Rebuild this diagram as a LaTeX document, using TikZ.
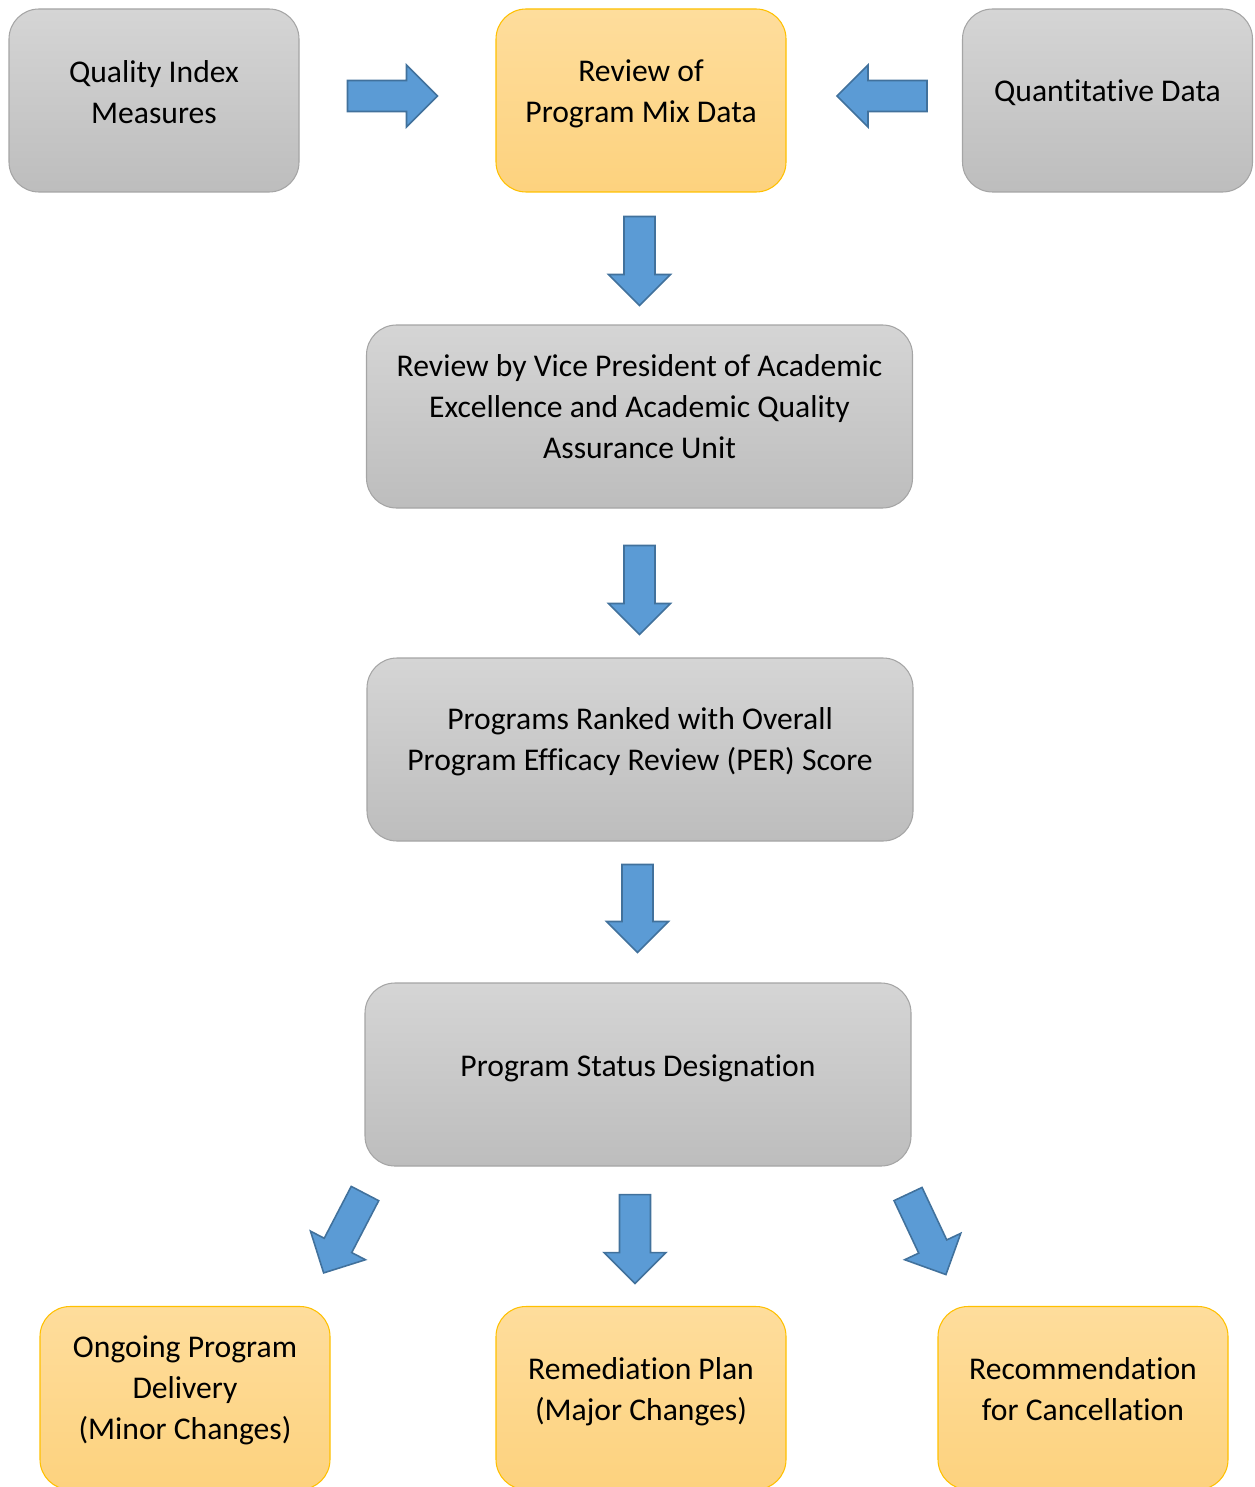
\documentclass[tikz,border=0pt]{standalone}
\usepackage{fontspec}
\setmainfont{Carlito}[Ligatures=NoCommon]
\usetikzlibrary{calc}

\definecolor{graytop}{HTML}{D5D5D5}
\definecolor{graybot}{HTML}{BDBDBD}
\definecolor{grayline}{HTML}{A5A5A5}
\definecolor{orangetop}{HTML}{FEDD9C}
\definecolor{orangebot}{HTML}{FDD27E}
\definecolor{orangeline}{HTML}{FFC000}
\definecolor{arrowblue}{HTML}{5B9BD5}
\definecolor{arrowline}{HTML}{41719C}

\tikzset{
  graybox/.style={draw=grayline, line width=0.6pt, top color=graytop, bottom color=graybot,
    rounded corners=0.6cm, minimum width=5.8cm, minimum height=3.66cm},
  orangebox/.style={draw=orangeline, line width=0.6pt, top color=orangetop, bottom color=orangebot,
    rounded corners=0.6cm, minimum width=5.8cm, minimum height=3.66cm},
  widebox/.style={minimum width=10.92cm},
  boxtext/.style={align=center, inner sep=0pt, font=\fontsize{18}{23.3}\selectfont},
  pics/blockarrow/.style={code={
    \draw[fill=arrowblue, draw=arrowline, line width=0.9pt, line join=miter]
      (0,-0.31) -- (#1-0.62,-0.31) -- (#1-0.62,-0.62) -- (#1,0)
      -- (#1-0.62,0.62) -- (#1-0.62,0.31) -- (0,0.31) -- cycle;
  }}
}

\begin{document}
\begin{tikzpicture}
    \useasboundingbox (0,0) rectangle (25.08,-29.74);
    \clip (0,0) rectangle (25.08,-29.74);

    % top row
    \node[graybox] (qim) at (3.08,-2.01) {};
    \node[orangebox] (mix) at (12.82,-2.01) {};
    \node[graybox] (quant) at (22.15,-2.01) {};
    \node[boxtext] (qimtext) at ([yshift=0.17cm]qim.center) {Quality Index\\Measures};
    \node[boxtext] (mixtext) at ([yshift=0.14cm]mix.center) {Review of\\Program Mix Data};
    \node[boxtext] (quanttext) at ([yshift=0.15cm]quant.center) {Quantitative Data};

    % middle column
    \node[graybox,widebox] (vp) at (12.79,-8.33) {};
    \node[boxtext] (vptext) at ([yshift=0.19cm]vp.center)
        {Review by Vice President of Academic\\Excellence and Academic Quality\\Assurance Unit};
    \node[graybox,widebox] (per) at (12.80,-14.99) {};
    \node[boxtext] (pertext) at ([yshift=0.15cm]per.center)
        {Programs Ranked with Overall\\Program Efficacy Review (PER) Score};
    \node[graybox,widebox] (status) at (12.76,-21.49) {};
    \node[boxtext] (statustext) at ([yshift=0.12cm]status.center) {Program Status Designation};

    % outcomes
    \node[orangebox] (ongoing) at (3.70,-27.96) {};
    \node[orangebox] (remed) at (12.82,-27.96) {};
    \node[orangebox] (cancel) at (21.66,-27.96) {};
    \node[boxtext] (ongoingtext) at ([yshift=0.16cm]ongoing.center)
        {Ongoing Program\\Delivery\\(Minor Changes)};
    \node[boxtext] (remedtext) at ([yshift=0.13cm]remed.center) {Remediation Plan\\(Major Changes)};
    \node[boxtext] (canceltext) at ([yshift=0.18cm]cancel.center) {Recommendation\\for Cancellation};

    % block arrows
    \pic at ($(qim.east)+(0.96,0.09)$) {blockarrow=1.8};
    \pic[rotate=180] at ($(quant.west)+(-0.70,0.09)$) {blockarrow=1.8};
    \pic[rotate=-90] at ($(mix.south)+(-0.03,-0.48)$) {blockarrow=1.78};
    \pic[rotate=-90] at ($(vp.south)+(0,-0.74)$) {blockarrow=1.78};
    \pic[rotate=-90] at ($(per.south)+(-0.05,-0.46)$) {blockarrow=1.76};
    \pic[rotate=-90] at ($(status.south)+(-0.06,-0.56)$) {blockarrow=1.78};
    \pic[rotate=242.5] at ($(status.south west)+(0.01,-0.54)$) {blockarrow=1.79};
    \pic[rotate=-64.8] at ($(status.south east)+(-0.07,-0.55)$) {blockarrow=1.78};
\end{tikzpicture}
\end{document}
